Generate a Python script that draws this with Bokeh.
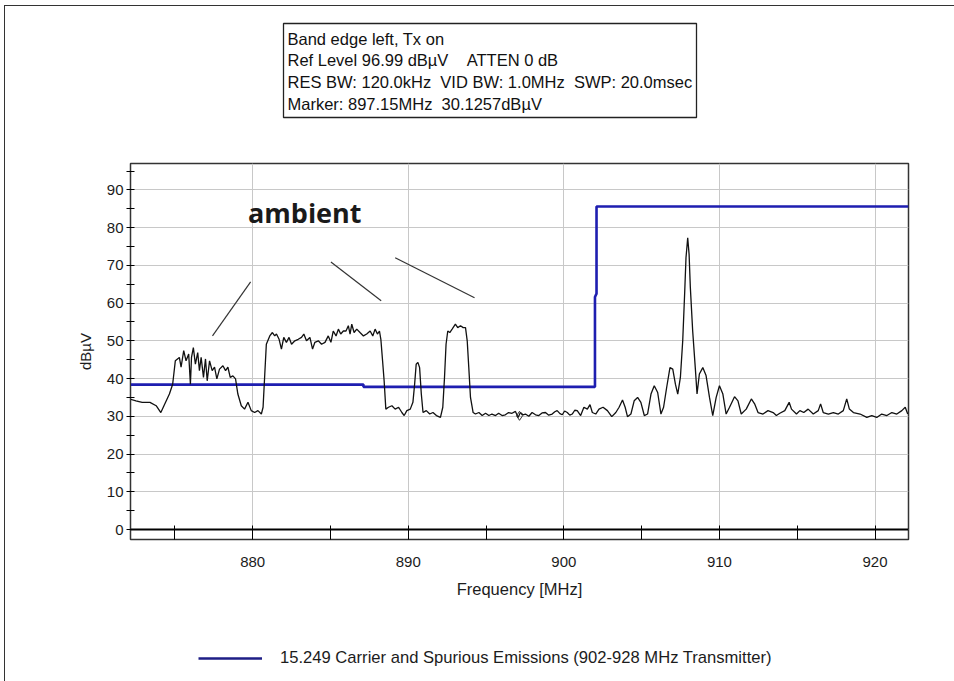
from bokeh.plotting import figure
from bokeh.layouts import column
from bokeh.models import (Range1d, FixedTicker, Label, Legend, LegendItem, Span,
                          BoxAnnotation)
from bokeh.embed import file_html
from bokeh.resources import INLINE

# ---- measured trace (MHz, dBuV) ----
freq = [872.07, 872.5, 872.9, 873.4, 873.8, 874.1, 874.3, 874.65, 874.86, 875.03,
        875.29, 875.4, 875.57, 875.72, 875.89, 876.0, 876.07, 876.19, 876.32, 876.47,
        876.58, 876.69, 876.84, 876.97, 877.08, 877.23, 877.4, 877.55, 877.7, 877.87,
        878.09, 878.26, 878.41, 878.56, 878.73, 878.9, 879.05, 879.27, 879.48, 879.7,
        879.91, 880.13, 880.34, 880.56, 880.67, 880.78, 880.88, 881.1, 881.27, 881.42,
        881.53, 881.7, 881.85, 882.0, 882.17, 882.34, 882.5, 882.71, 882.93, 883.14,
        883.29, 883.46, 883.68, 883.85, 884.0, 884.22, 884.43, 884.65, 884.86, 885.03,
        885.18, 885.36, 885.51, 885.66, 885.83, 886.0, 886.15, 886.26, 886.37, 886.52,
        886.69, 886.9, 887.12, 887.33, 887.55, 887.72, 887.87, 888.02, 888.15, 888.24,
        888.35, 888.45, 888.56, 888.73, 888.95, 889.16, 889.38, 889.59, 889.74, 889.91,
        890.13, 890.3, 890.41, 890.51, 890.62, 890.73, 890.84, 890.95, 891.16, 891.38,
        891.59, 891.81, 892.07, 892.22, 892.33, 892.43, 892.54, 892.67, 892.82, 893.03,
        893.18, 893.36, 893.53, 893.68, 893.79, 893.89, 894.0, 894.17, 894.32, 894.54,
        894.75, 894.97, 895.18, 895.38, 895.61, 895.81, 896.03, 896.24, 896.45, 896.67,
        896.89, 897.06, 897.21, 897.37, 897.53, 897.75, 897.96, 898.18, 898.39, 898.6,
        898.82, 899.03, 899.25, 899.42, 899.57, 899.75, 899.9, 900.05, 900.22, 900.38,
        900.54, 900.7, 900.86, 901.08, 901.29, 901.51, 901.68, 901.83, 902.05, 902.26,
        902.52, 902.8, 903.08, 903.34, 903.55, 903.77, 903.94, 904.09, 904.31, 904.52,
        904.74, 904.95, 905.17, 905.38, 905.6, 905.81, 906.03, 906.24, 906.41, 906.61,
        906.82, 907.0, 907.17, 907.32, 907.49, 907.64, 907.77, 907.85, 907.96, 908.05,
        908.13, 908.28, 908.46, 908.56, 908.71, 908.93, 909.14, 909.36, 909.57, 909.79,
        910.0, 910.22, 910.43, 910.65, 910.97, 911.19, 911.4, 911.72, 912.05, 912.26,
        912.48, 912.8, 913.12, 913.45, 913.66, 913.88, 914.2, 914.48, 914.63, 914.95,
        915.17, 915.42, 915.7, 916.03, 916.35, 916.5, 916.67, 917.0, 917.32, 917.64,
        917.96, 918.18, 918.35, 918.61, 919.04, 919.47, 919.79, 920.11, 920.43, 920.76,
        921.08, 921.4, 921.72, 921.94, 922.1]
level = [34.6, 34.1, 33.7, 33.7, 32.8, 31.0, 32.8, 35.9, 38.5, 44.7,
         45.6, 43.0, 47.4, 44.7, 46.5, 38.5, 45.6, 48.2, 43.8, 46.9,
         42.1, 45.6, 40.3, 45.2, 39.4, 44.7, 42.1, 43.0, 39.9, 42.5,
         43.4, 42.1, 43.0, 40.3, 40.7, 39.9, 35.9, 32.8, 31.9, 33.7,
         31.5, 31.0, 31.5, 30.6, 32.4, 41.2, 49.1, 51.3, 52.2, 51.3,
         51.8, 50.4, 47.8, 50.9, 49.6, 50.9, 49.1, 50.0, 50.4, 50.9,
         51.8, 50.0, 50.9, 47.8, 49.6, 50.0, 49.1, 49.6, 51.3, 49.6,
         52.6, 51.3, 53.1, 51.8, 52.6, 52.6, 54.0, 51.8, 54.4, 52.2,
         53.1, 52.2, 51.3, 51.8, 52.6, 51.3, 53.1, 51.8, 52.6, 50.4,
         44.7, 39.4, 31.9, 32.4, 32.8, 31.9, 32.4, 31.0, 30.2, 31.5,
         31.9, 33.7, 38.5, 43.8, 44.3, 42.9, 35.9, 31.0, 31.5, 30.6,
         31.0, 30.2, 29.7, 32.4, 40.3, 49.1, 52.6, 52.2, 53.1, 54.4,
         53.5, 54.0, 53.5, 53.5, 50.0, 43.0, 35.0, 31.0, 30.6, 31.0,
         30.2, 30.8, 30.2, 30.6, 30.2, 30.8, 30.2, 30.4, 31.0, 30.8,
         31.3, 29.7, 31.0, 30.4, 30.6, 30.0, 31.0, 30.4, 30.2, 30.9,
         31.0, 30.3, 30.6, 31.2, 31.5, 30.7, 30.4, 31.4, 31.0, 30.3,
         30.6, 31.6, 31.5, 30.2, 32.4, 31.9, 33.1, 31.0, 30.6, 31.9,
         32.4, 31.5, 29.9, 31.0, 32.4, 34.3, 32.4, 29.9, 30.6, 34.1,
         35.0, 33.7, 30.2, 30.6, 35.9, 38.1, 36.3, 30.6, 32.4, 37.7,
         42.9, 42.5, 38.5, 35.9, 40.3, 50.0, 63.2, 72.0, 77.3, 72.9,
         64.1, 52.6, 42.1, 35.9, 41.2, 42.9, 40.8, 35.0, 30.2, 35.0,
         38.1, 35.9, 30.6, 32.4, 35.2, 34.1, 30.6, 31.9, 34.6, 33.3,
         31.0, 30.6, 31.5, 31.0, 30.2, 30.8, 31.5, 33.7, 31.9, 30.6,
         31.5, 31.0, 31.9, 30.6, 31.5, 33.3, 31.0, 30.6, 31.0, 30.6,
         31.5, 34.6, 31.9, 31.0, 30.6, 29.7, 30.2, 29.7, 30.6, 30.2,
         31.0, 30.6, 31.5, 32.4, 30.6]

# ---- limit line: 15.249 ----
limit_freq = [872.15, 887.12, 887.12, 902.0, 902.0, 902.1, 902.1, 922.15]
limit_level = [38.4, 38.4, 37.8, 37.8, 61.6, 62.5, 85.6, 85.6]
limit_name = "15.249 Carrier and Spurious Emissions (902-928 MHz Transmitter)"

# ---- marker ----
marker_freq = [897.15]
marker_level = [30.1257]

# ---- "ambient" annotation ----
ann_text = "ambient"
ann_text_x = 879.7
ann_text_y = 83.9
ann_x0 = [877.42, 885.03, 889.16]
ann_y0 = [51.3, 70.9, 72.0]
ann_x1 = [879.87, 888.26, 894.26]
ann_y1 = [65.6, 60.6, 61.4]

# ---- header ----
NB = "\u00a0"
info_lines = ["Band edge left, Tx on",
              "Ref Level 96.99 dB\u00b5V" + NB * 4 + "ATTEN 0 dB",
              "RES BW: 120.0kHz" + NB * 2 + "VID BW: 1.0MHz" + NB * 2 + "SWP: 20.0msec",
              "Marker: 897.15MHz" + NB * 2 + "30.1257dB\u00b5V"]

x_major = [880, 890, 900, 910, 920]
x_minor = [875, 885, 895, 905, 915]
y_major = [0, 10, 20, 30, 40, 50, 60, 70, 80, 90]
y_minor = [5, 15, 25, 35, 45, 55, 65, 75, 85, 95]

FONT = "Liberation Sans"
TXT = "#1c1c1c"
LIMIT_COLOR = "#1e1eb0"
LEGEND_COLOR = "#1e1e86"
W = 949
LEFT = 125
RIGHT = 46

# ================= header: info box =================
h = figure(width=W, height=156, output_backend="svg", toolbar_location=None,
           x_axis_type=None, y_axis_type=None,
           x_range=Range1d(0, 778), y_range=Range1d(156, 0),
           min_border_left=LEFT, min_border_right=RIGHT, min_border_top=0,
           min_border_bottom=0, background_fill_color="white",
           border_fill_color="white")
h.outline_line_color = None
h.grid.visible = False
h.add_layout(BoxAnnotation(left=153, right=566, top=17, bottom=111,
                           fill_color="white", fill_alpha=1.0,
                           line_color="#222222", line_width=1.3, line_alpha=1.0))
for i, line in enumerate(info_lines):
    h.add_layout(Label(x=157, y=32 + i * 21.7, text=line, text_font=FONT,
                       text_font_size="16.5px", text_color="#111111",
                       text_align="left", text_baseline="middle"))

# ================= main chart =================
p = figure(width=W, height=468, output_backend="svg", toolbar_location=None,
           x_range=Range1d(872.15, 922.15), y_range=Range1d(-2.65, 96.99),
           min_border_left=LEFT, min_border_right=RIGHT, min_border_top=1,
           min_border_bottom=91, background_fill_color="white",
           border_fill_color="white")

p.outline_line_color = "#333333"
p.outline_line_width = 1.5

p.xgrid.grid_line_color = "#c8c8c8"
p.ygrid.grid_line_color = "#c8c8c8"
p.xgrid.ticker = FixedTicker(ticks=x_major)
p.ygrid.ticker = FixedTicker(ticks=y_major)

xa = p.xaxis[0]
xa.ticker = FixedTicker(ticks=x_major, minor_ticks=x_minor)
xa.axis_line_color = "#333333"
xa.major_tick_in = 14
xa.major_tick_out = 0
xa.minor_tick_in = 14
xa.minor_tick_out = 0
xa.major_tick_line_color = "black"
xa.minor_tick_line_color = "black"
xa.major_label_standoff = 17
xa.major_label_text_font = FONT
xa.major_label_text_font_size = "15px"
xa.major_label_text_color = TXT
xa.axis_label = "Frequency [MHz]"
xa.axis_label_text_font = FONT
xa.axis_label_text_font_size = "16.5px"
xa.axis_label_text_font_style = "normal"
xa.axis_label_text_color = TXT
xa.axis_label_standoff = 10

ya = p.yaxis[0]
ya.ticker = FixedTicker(ticks=y_major, minor_ticks=y_minor)
ya.axis_line_color = "#333333"
ya.major_tick_in = 4
ya.major_tick_out = 4
ya.minor_tick_in = 4
ya.minor_tick_out = 4
ya.major_tick_line_color = "black"
ya.minor_tick_line_color = "black"
ya.major_label_standoff = 3
ya.major_label_text_font = FONT
ya.major_label_text_font_size = "15px"
ya.major_label_text_color = TXT
ya.axis_label = "dB\u00b5V"
ya.axis_label_text_font = FONT
ya.axis_label_text_font_size = "15px"
ya.axis_label_text_font_style = "normal"
ya.axis_label_text_color = TXT
ya.axis_label_standoff = 10

# zero line
p.add_layout(Span(location=0, dimension="width", line_color="black", line_width=2))

# limit line
p.line(limit_freq, limit_level, line_color=LIMIT_COLOR, line_width=2.6)

# measured trace
p.line(freq, level, line_color="#111111", line_width=1.3)

# marker
p.scatter(marker_freq, marker_level, marker="diamond", size=9,
          fill_color=None, line_color="#333333", line_width=1)

# annotation
p.segment(ann_x0, ann_y0, ann_x1, ann_y1, line_color="#333333", line_width=1.2)
p.add_layout(Label(x=ann_text_x, y=ann_text_y, text=ann_text,
                   text_font="Open Sans", text_font_style="bold",
                   text_font_size="27px", text_color="#1a1a1a",
                   text_baseline="middle", text_align="left"))

# ================= footer: legend =================
# the footer's ranges leave the limit data outside its frame, so only the
# legend entry of this renderer shows
f = figure(width=W, height=51, output_backend="svg", toolbar_location=None,
           x_axis_type=None, y_axis_type=None,
           x_range=Range1d(0, 1), y_range=Range1d(0, 1),
           min_border_left=LEFT, min_border_right=RIGHT, min_border_top=0,
           min_border_bottom=0, background_fill_color="white",
           border_fill_color="white")
f.outline_line_color = None
f.grid.visible = False
leg_r = f.line(limit_freq, limit_level, line_color=LEGEND_COLOR, line_width=2.6)
legend = Legend(items=[LegendItem(label=limit_name, renderers=[leg_r])],
                location=(68, 13), border_line_color=None,
                background_fill_alpha=0, glyph_width=64, glyph_height=20,
                label_standoff=18, padding=0, margin=0,
                label_text_font=FONT, label_text_font_size="16.6px",
                label_text_color=TXT)
f.add_layout(legend)

layout = column(h, p, f, spacing=0, margin=(5, 0, 0, 4),
                styles={"border-top": "1px solid #333333",
                        "border-left": "1px solid #333333"})
open("out.html", "w").write(file_html(layout, INLINE))
